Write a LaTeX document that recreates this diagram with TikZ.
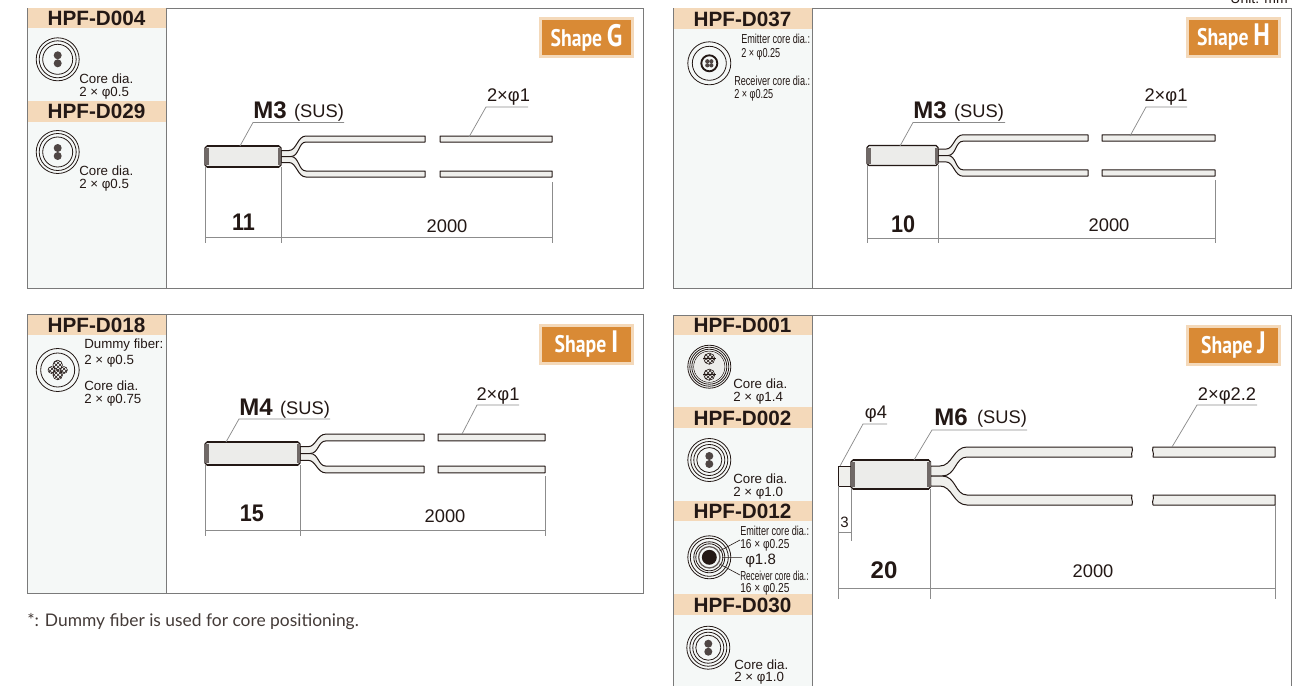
\documentclass[tikz,border=0pt]{standalone}
\usepackage{fontspec}
\usetikzlibrary{patterns}
\setmainfont{Liberation Sans}
\newfontfamily\condfont[FakeStretch=0.7]{Liberation Sans}
\newfontfamily\tightfont[FakeStretch=0.63]{Liberation Sans}
\newfontfamily\midfont[FakeStretch=0.78]{Liberation Sans}
\newfontfamily\numfont[FakeStretch=0.9]{Liberation Sans Bold}
\newfontfamily\badgefont[FakeStretch=0.82]{PT Sans Bold}
\newfontfamily\notefont{Lato}
\definecolor{ink}{HTML}{231815}
\definecolor{hdr}{HTML}{F4D9BA}
\definecolor{side}{HTML}{F5F8F7}
\definecolor{frame}{HTML}{7A7A7A}
\definecolor{dimc}{HTML}{8C8C8C}
\definecolor{fib}{HTML}{EFEFEC}
\definecolor{bod}{HTML}{ECECEA}
\definecolor{badge}{HTML}{D98A35}
\newcommand\fpx[1]{\fontsize{\fpeval{#1*0.75}pt}{\fpeval{#1*0.9}pt}\selectfont}
\tikzset{
  x=0.75pt,y=-0.75pt,
  sidecol/.style={fill=side},
  hdrband/.style={fill=hdr},
  hdrtext/.style={font=\fpx{20.7}\bfseries,text=ink,inner sep=0pt},
  small/.style={font=\fpx{13.3},text=ink,inner sep=0pt,anchor=west},
  cond/.style={font=\condfont\fpx{13},text=ink,inner sep=0pt,anchor=west},
  tight/.style={font=\tightfont\fpx{13},text=ink,inner sep=0pt,anchor=west},
  midc/.style={font=\midfont\fpx{13},text=ink,inner sep=0pt,anchor=west},
  lab/.style={font=\fpx{18.3},text=ink,inner sep=0pt},
  big/.style={font=\fpx{24}\bfseries,text=ink,inner sep=0pt},
  bignum/.style={font=\numfont\fpx{24},text=ink,inner sep=0pt},
  dimline/.style={draw=dimc,line width=0.55pt},
  leaderline/.style={draw=dimc,line width=0.55pt},
  ring/.style={draw=ink,line width=0.6pt},
  fibline/.style={draw=ink,line width=0.75pt,fill=fib,line join=round},
  coredot/.style={fill=ink!80},
  hatchdot/.style={draw=ink,line width=0.4pt,pattern=crosshatch,pattern color=ink},
  badgebox/.style={fill=badge,draw=hdr,line width=2.2pt},
}
% panel: x0 y0 x1 y1 xcol
\newcommand\panelbox[5]{%
  \path[sidecol] (#1,#2) rectangle (#5,#4);
  \draw[frame,line width=0.65pt] (#1,#2) rectangle (#3,#4);
  \draw[frame,line width=0.65pt] (#5,#2) -- (#5,#4);
}
% header: name text x0 x1 y0 y1
\newcommand\hdrbox[6]{%
  \path[hdrband] (#3,#5) rectangle (#4,#6);
  \node[hdrtext] (#1) at ({(#3+#4)/2},{(#5+#6)/2+0.6}) {#2};
}
% badge: name cx cy letter
\newcommand\badgebox[4]{%
  \node[badgebox,minimum width=69.5pt,minimum height=29pt,inner sep=0pt,text=white] (#1) at (#2,#3)
    {\raisebox{-0.6pt}{\badgefont\fpx{24}Shape\hspace{3.6pt}\fpx{31}#4}};
}
% body: xL xR yc h
\newcommand\fbody[4]{%
  \pgfmathsetmacro\ytop{#3-#4}\pgfmathsetmacro\ybot{#3+#4}
  \draw[ink,line width=0.9pt,fill=bod,line join=round]
    (#1+2,\ytop) -- (#2-2,\ytop) -- (#2,\ytop+2) -- (#2,\ybot-2) -- (#2-2,\ybot) -- (#1+2,\ybot) -- (#1,\ybot-2) -- (#1,\ytop+2) -- cycle;
  \path[fill=ink!65] (#1,\ytop+2) rectangle (#1+3.5,\ybot-2);
  \path[fill=ink!65] (#2-3.5,\ytop+2) rectangle (#2,\ybot-2);
  \draw[ink,line width=1.3pt] (#1+2,\ytop) -- (#2-2,\ytop) (#1+2,\ybot) -- (#2-2,\ybot);
}
% fibers: xR yc t d xs xe xa xb xc  (xs stub end, xe bend end)
\newcommand\fibers[9]{%
  \foreach \sgn in {-1,1}{%
    \pgfmathsetmacro\yo{#2+\sgn*(#4+#3)}
    \pgfmathsetmacro\yi{#2+\sgn*(#4-#3)}
    \pgfmathsetmacro\ymid{#2+\sgn*#4}
    \pgfmathsetmacro\ystub{#2+\sgn*2*#3}
    \draw[fibline] (#1,\ystub) -- (#5,\ystub)
      .. controls (#5+0.45*#6-0.45*#5,\ystub) and (#5+0.5*#6-0.5*#5,\yo) .. (#6,\yo)
      -- (#7,\yo) .. controls (#7+1.5,\ymid) and (#7-1.5,\ymid) .. (#7,\yi)
      -- (#6,\yi) .. controls (#5+0.55*#6-0.55*#5,\yi) and (#5+0.6*#6-0.6*#5,#2) .. (#5+2,#2) -- (#1,#2) -- cycle;
    \draw[fibline] (#8,\yo) -- (#9,\yo) -- (#9,\yi) -- (#8,\yi) .. controls (#8+1.5,\ymid) and (#8-1.5,\ymid) .. cycle;
  }%
}
% rings: cx cy list
\newcommand\rings[3]{%
  \foreach \rr in {#3}{\draw[ring] (#1,#2) circle[radius=\rr*0.75pt];}
}
% two-core: cx cy
\newcommand\twocore[2]{%
  \fill[coredot] (#1,#2-4) circle[radius=3pt];
  \fill[coredot] (#1,#2+4) circle[radius=3pt];
}
% leader: name, from, elbow, to
\newcommand\leader[7]{%
  \coordinate (#1a) at (#2,#3);
  \coordinate (#1b) at (#4,#5);
  \coordinate (#1c) at (#6,#7);
  \draw[leaderline] (#1a) -- (#1b) -- (#1c);
}
% dim: name x0 xm x1 yline extbottom  y-starts
\newcommand\dims[9]{%
  \draw[dimline] (#2,#5) -- (#2,#6);
  \draw[dimline] (#3,#7) -- (#3,#6);
  \draw[dimline] (#4,#8) -- (#4,#6);
  \coordinate (#1L) at (#2,#9);
  \coordinate (#1R) at (#4,#9);
  \draw[dimline] (#1L) -- (#1R);
}
\begin{document}
\begin{tikzpicture}
\path[use as bounding box,fill=white] (0,0) rectangle (1309,685);
\clip (0,0) rectangle (1309,685);
\node[font=\fpx{14},text=ink,inner sep=0pt,anchor=east] (unit) at (1288,-2) {Unit: mm};

% ---------- Panels
\panelbox{27}{8}{643}{288}{166}
\panelbox{673}{8}{1291}{288}{812}
\panelbox{27}{314}{643}{593}{166}
\panelbox{673}{315}{1291}{700}{812}

% ---------- Headers
\hdrbox{h004}{HPF-D004}{27.5}{165.5}{8.5}{28}
\hdrbox{h029}{HPF-D029}{27.5}{165.5}{101}{121.5}
\hdrbox{h037}{HPF-D037}{673.5}{811.5}{8.5}{29}
\hdrbox{h018}{HPF-D018}{27.5}{165.5}{314.5}{335}
\hdrbox{h001}{HPF-D001}{673.5}{811.5}{315.5}{335}
\hdrbox{h002}{HPF-D002}{673.5}{811.5}{407}{428}
\hdrbox{h012}{HPF-D012}{673.5}{811.5}{500.5}{521}
\hdrbox{h030}{HPF-D030}{673.5}{811.5}{594}{615}

% ---------- Badges
\badgebox{bG}{586.5}{37.5}{G}
\badgebox{bH}{1233.5}{37.5}{H}
\badgebox{bI}{586.5}{344.5}{I}
\badgebox{bJ}{1233.5}{345.5}{J}

% ---------- Cross-sections
\rings{57.7}{59.3}{21.5,18.5,15}\twocore{57.7}{59.3}
\node[small] (t1) at (79,78.3) {Core dia.};
\node[small] (t2) at (79,93) {2 × φ0.5};

\rings{57.7}{152}{21.5,18.5,15}\twocore{57.7}{152}
\node[small] (t3) at (79,171) {Core dia.};
\node[small] (t4) at (79,185) {2 × φ0.5};

\rings{709.3}{63.3}{21.5,17}
\draw[ink,line width=1.4pt] (709.3,63.3) circle[radius=6pt];
\foreach \dx/\dy in {-2/-2,2/-2,-2/2,2/2}{\fill[coredot] (709.3+\dx,63.3+\dy) circle[radius=1.6pt];}
\node[cond] (t5) at (741,38.5) {Emitter core dia.:};
\node[cond] (t6) at (741,54.5) {2 × φ0.25};
\node[cond] (t7) at (734,81) {Receiver core dia.:};
\node[cond] (t8) at (734,95) {2 × φ0.25};

\rings{57.7}{370}{21.5,17}
\path[hatchdot] (57.7,365) circle[radius=3.6pt];
\path[hatchdot] (57.7,375) circle[radius=3.6pt];
\path[hatchdot] (51.5,370) circle[radius=2.6pt];
\path[hatchdot] (63.9,370) circle[radius=2.6pt];
\node[small] (t9) at (84,345.5) {Dummy fiber:};
\node[small] (t10) at (84,361) {2 × φ0.5};
\node[small] (t11) at (84,386) {Core dia.};
\node[small] (t12) at (84,400.5) {2 × φ0.75};

\rings{709.3}{366.7}{21.5,19.5,17.5,15.5}
\path[fill=bod] (709.3,366.7) circle[radius=11.4pt];
\path[hatchdot] (709.3,358.7) circle[radius=4.2pt];
\path[hatchdot] (709.3,374.7) circle[radius=4.2pt];
\draw[ink,line width=0.4pt] (703,358.7) -- (715.6,358.7) (703,374.7) -- (715.6,374.7);
\node[small] (t13) at (733,383.8) {Core dia.};
\node[small] (t14) at (733,398) {2 × φ1.4};

\rings{709.3}{460}{21.5,18.5,15.5,12.5}\twocore{709.3}{460}
\node[small] (t15) at (733,478.5) {Core dia.};
\node[small] (t16) at (733,493) {2 × φ1.0};

\rings{709.3}{557.3}{21.5,19,15.5,13.5}
\draw[ink!70,line width=1pt] (709.3,557.3) circle[radius=8pt];
\fill[ink] (709.3,557.3) circle[radius=5.6pt];
\node[cond] (t17) at (740,530.7) {Emitter core dia.:};
\node[midc] (t18) at (740,545) {16 × φ0.25};
\node[small,font=\fpx{15}] (t19) at (745,560.5) {φ1.8};
\node[tight] (t20) at (740,575.5) {Receiver core dia.:};
\node[midc] (t21) at (740,589.5) {16 × φ0.25};
\coordinate (e012) at (719.5,551);
\coordinate (m012) at (722,557.3);
\coordinate (r012) at (719.5,564);
\coordinate (e012b) at (740,540);
\coordinate (m012b) at (742,557.3);
\coordinate (r012b) at (740,575);
\draw[ink,line width=0.45pt] (e012) -- (e012b) (m012) -- (m012b) (r012) -- (r012b);

\rings{708.3}{647.7}{21.5,18.5,15.5,12.5}\twocore{708.3}{647.7}
\node[small] (t22) at (734,664.5) {Core dia.};
\node[small] (t23) at (734,678.5) {2 × φ1.0};

% ---------- Shape G
\fibers{281}{156.5}{3}{17.5}{289}{306}{425}{440}{552}
\fbody{205}{281}{156.5}{10.5}
\dims{dG}{205}{281}{552}{167}{243}{167}{182}{237.5}
\leader{lG}{240}{146}{253}{122.5}{344}{122.5}
\leader{fG}{469}{137}{486}{107}{528}{107}
\node[big,anchor=west] (mG) at (253,110) {M3};
\node[lab] (sG) at (319,112.5) {(SUS)};
\node[lab] (pG) at (508.5,97.5) {2×φ1};
\node[bignum] (dG1) at (243.5,222) {11};
\node[lab] (dG2) at (447,226) {2000};

% ---------- Shape H
\fibers{938}{155.5}{3.2}{17.5}{946}{963}{1088}{1102}{1215}
\fbody{867}{938}{155.5}{10}
\dims{dH}{867}{938}{1215}{165}{243}{165}{180}{238}
\leader{lH}{900}{146}{913}{122.5}{1005}{122.5}
\leader{fH}{1130}{136}{1146}{107}{1187}{107}
\node[big,anchor=west] (mH) at (913,110) {M3};
\node[lab] (sH) at (979,112.5) {(SUS)};
\node[lab] (pH) at (1166,97.5) {2×φ1};
\node[bignum] (dH1) at (903,224) {10};
\node[lab] (dH2) at (1109,225) {2000};

% ---------- Shape I
\fibers{300}{453.5}{3.4}{16}{308}{326}{424}{438}{545}
\fbody{205}{300}{453.5}{11.5}
\dims{dI}{205}{300}{545}{465}{536}{465}{476}{530.5}
\leader{lI}{226}{442}{239}{419}{330}{419}
\leader{fI}{462}{434}{477}{405}{519}{405}
\node[big,anchor=west] (mI) at (239,407) {M4};
\node[lab] (sI) at (305,409.5) {(SUS)};
\node[lab] (pI) at (498,396.5) {2×φ1};
\node[bignum] (dI1) at (252,513) {15};
\node[lab] (dI2) at (445,516) {2000};

% ---------- Shape J
\draw[ink,line width=0.75pt,fill=fib] (838,466) rectangle (851,486);
\fibers{930.5}{476}{5}{24}{940}{967}{1132}{1153}{1275}
\fbody{851}{930.5}{474.5}{14.5}
\dims{dJ}{838}{930.5}{1275}{486}{599}{489}{505}{588}
\coordinate (j3a) at (851,489); \coordinate (j3b) at (851,541);
\draw[dimline] (j3a) -- (j3b);
\coordinate (j3c) at (838,532); \coordinate (j3d) at (851,532);
\draw[dimline] (j3c) -- (j3d);
\leader{lP}{840}{466}{863}{424}{887}{424}
\leader{lJ}{914}{460}{932}{430}{1027}{430}
\leader{fJ}{1172}{447}{1197}{405}{1257}{405}
\node[lab] (pP) at (876,414.5) {φ4};
\node[big,anchor=west] (mJ) at (934,417) {M6};
\node[lab] (sJ) at (1002,418.5) {(SUS)};
\node[lab] (pJ) at (1227,396.5) {2×φ2.2};
\node[lab,font=\fpx{15}] (d3) at (844.5,522) {3};
\node[big] (dJ1) at (884,570) {20};
\node[lab] (dJ2) at (1093,571) {2000};

% ---------- Footnote
\node[font=\notefont\fpx{17.4},text=ink!85,inner sep=0pt,anchor=west] (note) at (27,621.5) {*: Dummy fiber is used for core positioning.};
\end{tikzpicture}
\end{document}
